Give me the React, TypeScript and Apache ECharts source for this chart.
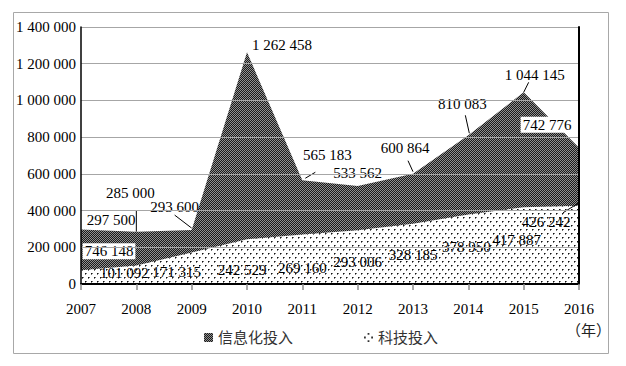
import React, { useEffect, useRef } from "react";
import * as echarts from "echarts";

const years = ["2007", "2008", "2009", "2010", "2011", "2012", "2013", "2014", "2015", "2016"];
const infoValues = [297500, 285000, 293600, 1262458, 565183, 533562, 600864, 810083, 1044145, 742776];
const sciValues = [74615, 101092, 171315, 243529, 269160, 293006, 328185, 378950, 417887, 426242];
const sciLabels = ["746 148", "101 092", "171 315", "242 529", "269 160", "293 006", "328 185", "378 950", "417 887", "426 242"];
const seriesNames = ["信息化投入", "科技投入"];
const yTicks = { min: 0, max: 1400000, interval: 200000 };
const unitText = "（年）";

// label placement (style only): pixel offsets of label centres from their points
const infoOffsets = [[30, -9], [-6, -39], [-17, -23], [35, -7], [25, -25], [0, -13], [-8, -26], [-6, -31], [11, -17], [-32, -23]];
const infoBg = [true, false, false, false, false, false, false, false, false, true];
const sciOffsets = [[28, -19], [-12, 8], [-15, 19], [-5, 31], [0, 33], [0, 32], [0, 31], [-2, 33], [-7, 33], [-33, 16]];
const sciBg = [true, false, false, false, false, false, false, false, false, false];
// leader lines (style only): [series, index, startDx, startDy, endDx, endDy]
const leaders = [
  [0, 1, 0, 0, 0, -21],
  [0, 2, 0, -2, -17, -15],
  [0, 4, 3, -2, 13, -8],
  [0, 6, 0, -2, -5, -13],
  [0, 7, 1, -2, -3, -20],
  [0, 8, 0, 0, 5, -10],
  [1, 9, 0, -3, -16, 7],
];

const SERIF = "'Liberation Serif', 'Times New Roman', 'DejaVu Serif', serif";
const CJK = "'Liberation Serif', 'Noto Sans CJK SC', serif";

function fmt(v: number): string {
  return String(v).replace(/\B(?=(\d{3})+(?!\d))/g, " ");
}

function makeTile(w: number, h: number, draw: (ctx: CanvasRenderingContext2D) => void) {
  const c = document.createElement("canvas");
  c.width = w;
  c.height = h;
  const ctx = c.getContext("2d") as CanvasRenderingContext2D;
  draw(ctx);
  return c;
}

export default function App() {
  const ref = useRef<HTMLDivElement>(null);
  useEffect(() => {
    if (!ref.current) return;
    const chart = echarts.init(ref.current, undefined, { renderer: "svg" });

    const darkTile = makeTile(2, 2, (ctx) => {
      ctx.fillStyle = "#1a1a1a";
      ctx.fillRect(0, 0, 2, 2);
      ctx.fillStyle = "#909090";
      ctx.fillRect(0, 0, 1, 1);
      ctx.fillRect(1, 1, 1, 1);
    });
    const dotTile = makeTile(6, 8, (ctx) => {
      ctx.fillStyle = "#ffffff";
      ctx.fillRect(0, 0, 6, 8);
      ctx.fillStyle = "#111111";
      ctx.fillRect(1, 1, 1, 1);
      ctx.fillRect(4, 5, 1, 1);
      ctx.fillStyle = "#777777";
      ctx.fillRect(2, 1, 1, 1);
      ctx.fillRect(1, 2, 1, 1);
      ctx.fillRect(5, 5, 1, 1);
      ctx.fillRect(4, 6, 1, 1);
    });
    const darkPattern: any = { type: "pattern", image: darkTile, repeat: "repeat", imageWidth: 2, imageHeight: 2 };
    const dotPattern: any = { type: "pattern", image: dotTile, repeat: "repeat", imageWidth: 6, imageHeight: 8 };

    const labelBase = {
      show: true,
      position: "inside",
      color: "#000",
      fontSize: 15,
      fontFamily: SERIF,
    };

    const infoData = infoValues.map((v, i) => ({
      value: v,
      label: {
        formatter: fmt(v),
        backgroundColor: infoBg[i] ? "#fff" : "transparent",
        padding: infoBg[i] ? [1, 2, 0, 2] : 0,
      },
    }));
    const sciData = sciValues.map((v, i) => ({
      value: v,
      label: {
        formatter: sciLabels[i],
        backgroundColor: sciBg[i] ? "#fff" : "transparent",
        padding: sciBg[i] ? [1, 2, 0, 2] : 0,
      },
    }));
    const leaderData = leaders.map((l) => {
      const vals = l[0] === 0 ? infoValues : sciValues;
      return [l[1], vals[l[1]], l[2], l[3], l[4], l[5]];
    });

    const option: any = {
      animation: false,
      backgroundColor: "#fff",
      grid: { left: 81, top: 27, right: 47, bottom: 82 },
      graphic: [
        {
          type: "rect",
          shape: { x: 13.5, y: 12.5, width: 595, height: 341 },
          style: { fill: "none", stroke: "#a8a8a8", lineWidth: 1 },
          silent: true,
        },
        {
          type: "text",
          left: 566,
          top: 323,
          style: { text: unitText, fontSize: 15, fontFamily: CJK, fill: "#222" },
        },
      ],
      legend: {
        left: 199,
        top: 325,
        itemWidth: 9,
        itemHeight: 9,
        itemGap: 71,
        textStyle: { fontSize: 15, fontFamily: CJK, color: "#333" },
        data: [
          { name: seriesNames[0], icon: "rect", itemStyle: { color: darkPattern, borderWidth: 0 } },
          {
            name: seriesNames[1],
            icon: "path://M4,0h2v2h-2z M0,4h2v2h-2z M8,4h2v2h-2z M4,8h2v2h-2z",
            itemStyle: { color: "#333", borderWidth: 0 },
          },
        ],
      },
      xAxis: [
        {
          type: "category",
          data: years,
          boundaryGap: false,
          axisLine: { show: true, lineStyle: { color: "#8c8c8c", width: 1.5 } },
          axisTick: { show: true, length: 6, lineStyle: { color: "#8c8c8c", width: 1.5 } },
          axisLabel: { color: "#000", fontSize: 15, fontFamily: SERIF, margin: 17 },
          splitLine: { show: false },
          z: 10,
        },
        {
          type: "category",
          data: years,
          boundaryGap: false,
          position: "top",
          axisLine: { show: true, lineStyle: { color: "#000", width: 2 } },
          axisTick: { show: false },
          axisLabel: { show: false },
          splitLine: { show: false },
          z: 10,
        },
      ],
      yAxis: [
        {
          type: "value",
          min: yTicks.min,
          max: yTicks.max,
          interval: yTicks.interval,
          axisLine: { show: true, lineStyle: { color: "#000", width: 1.5 } },
          axisTick: { show: false },
          axisLabel: { color: "#000", fontSize: 15, fontFamily: SERIF, margin: 5, formatter: (v: number) => fmt(v) },
          splitLine: { show: true, lineStyle: { color: "#a6a6a6", width: 1 } },
          z: 10,
        },
        {
          type: "value",
          min: yTicks.min,
          max: yTicks.max,
          interval: yTicks.interval,
          position: "right",
          axisLine: { show: true, lineStyle: { color: "#000", width: 2 } },
          axisTick: { show: false },
          axisLabel: { show: false },
          splitLine: { show: false },
          z: 10,
        },
      ],
      series: [
        {
          name: seriesNames[0],
          type: "line",
          data: infoData,
          symbol: "circle",
          symbolSize: 1,
          showSymbol: true,
          itemStyle: { color: "rgba(0,0,0,0)" },
          lineStyle: { width: 0 },
          areaStyle: { color: darkPattern, opacity: 1 },
          label: labelBase,
          labelLayout: (p: any) => ({ dx: infoOffsets[p.dataIndex][0], dy: infoOffsets[p.dataIndex][1] }),
          z: 2,
        },
        {
          name: seriesNames[1],
          type: "line",
          data: sciData,
          symbol: "circle",
          symbolSize: 1,
          showSymbol: true,
          itemStyle: { color: "rgba(0,0,0,0)" },
          lineStyle: { width: 0 },
          areaStyle: { color: dotPattern, opacity: 1 },
          label: labelBase,
          labelLayout: (p: any) => ({ dx: sciOffsets[p.dataIndex][0], dy: sciOffsets[p.dataIndex][1] }),
          z: 3,
        },
        {
          name: "leaders",
          type: "custom",
          data: leaderData,
          encode: { x: 0, y: 1 },
          silent: true,
          z: 6,
          renderItem: (params: any, api: any) => {
            const p = api.coord([api.value(0), api.value(1)]);
            return {
              type: "line",
              shape: {
                x1: p[0] + api.value(2),
                y1: p[1] + api.value(3),
                x2: p[0] + api.value(4),
                y2: p[1] + api.value(5),
              },
              style: { stroke: "#000", lineWidth: 1 },
            };
          },
        },
      ],
    };
    chart.setOption(option);
    return () => chart.dispose();
  }, []);
  return <div ref={ref} style={{ position: "fixed", left: 0, top: 0, width: 626, height: 366 }} />;
}
